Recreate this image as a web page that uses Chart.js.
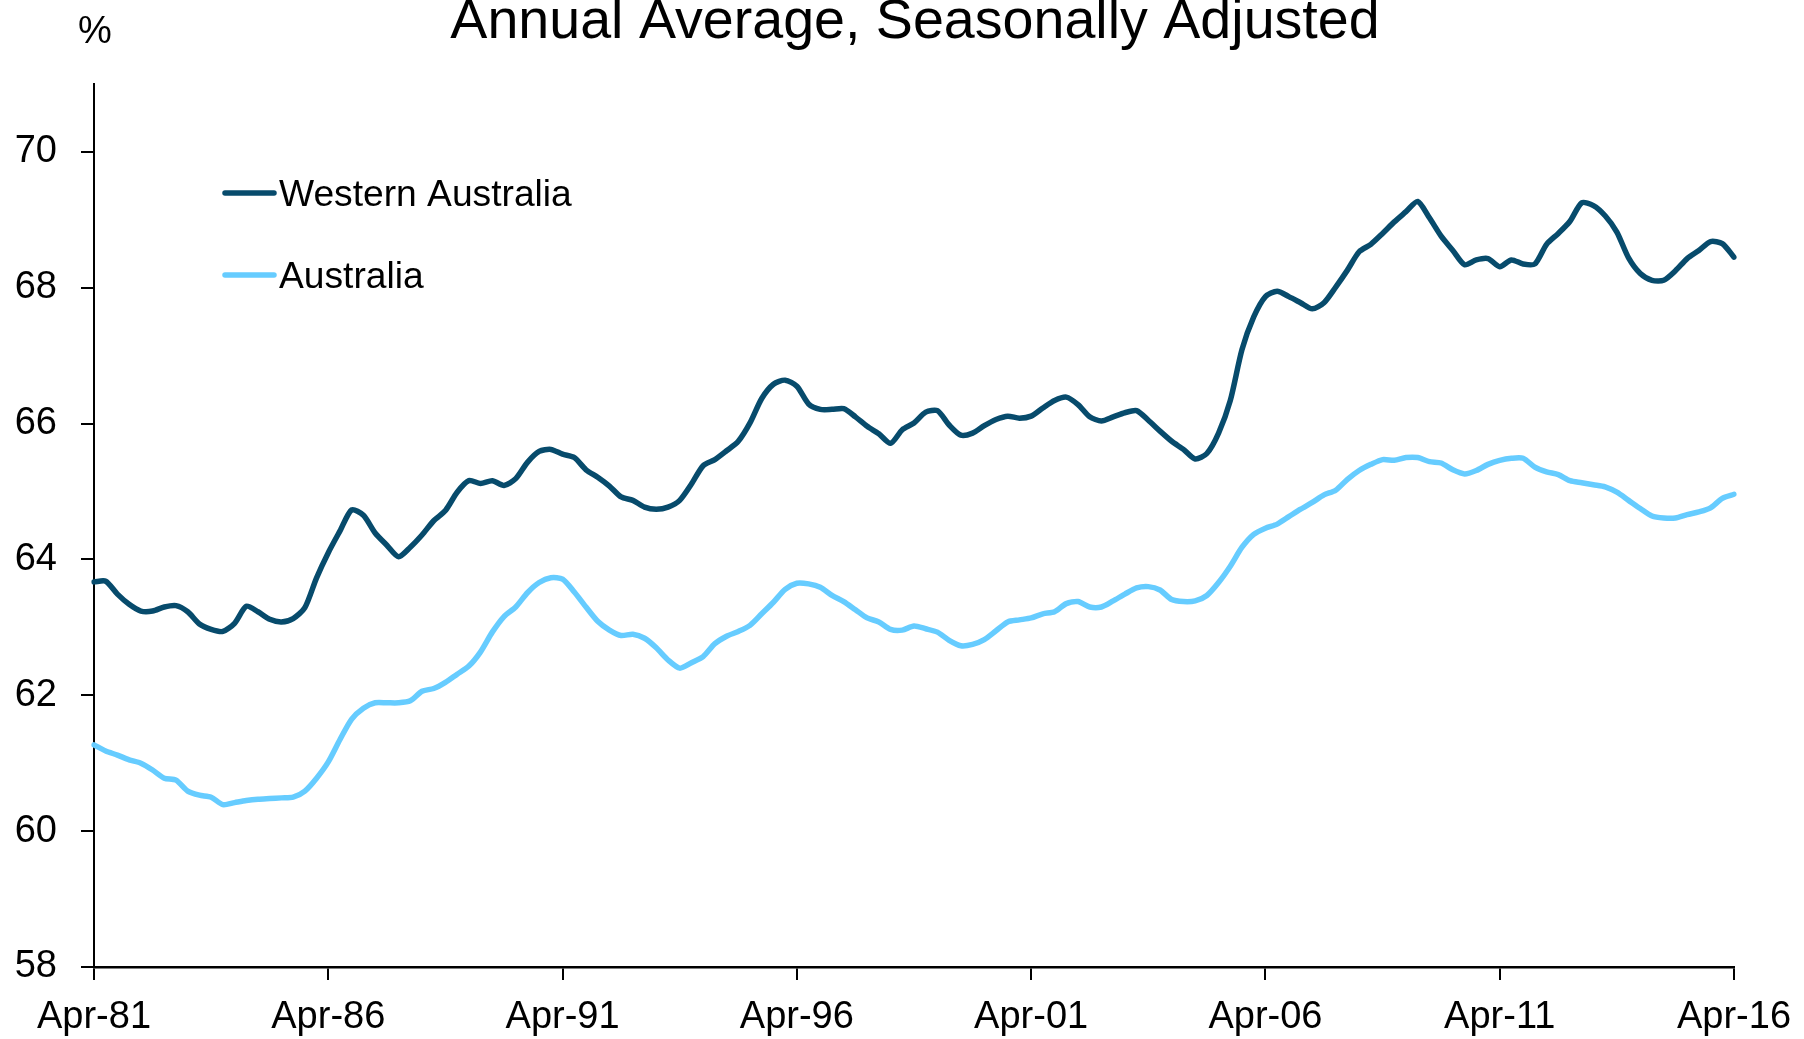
<!DOCTYPE html>
<html>
<head>
<meta charset="utf-8">
<title>Annual Average, Seasonally Adjusted</title>
<script src="https://cdn.jsdelivr.net/npm/chart.js@4.4.1/dist/chart.umd.min.js"></script>
<style>
  html, body { margin: 0; padding: 0; background: #fff; }
  #wrap { position: relative; width: 1804px; height: 1039px; }
</style>
</head>
<body>
<div id="wrap"><canvas id="chart"></canvas></div>
<script>
const TITLE = 'Annual Average, Seasonally Adjusted';
const UNIT_LABEL = '%';
const FONT = '"Liberation Sans", Arial, sans-serif';
const MONTH_NAMES = ['Jan', 'Feb', 'Mar', 'Apr', 'May', 'Jun', 'Jul', 'Aug', 'Sep', 'Oct', 'Nov', 'Dec'];
const TICK_LABELS = ['Apr-81', 'Apr-86', 'Apr-91', 'Apr-96', 'Apr-01', 'Apr-06', 'Apr-11', 'Apr-16'];
const Y_TICKS = [58, 60, 62, 64, 66, 68, 70];
const SERIES_NAMES = ['Western Australia', 'Australia'];
const SERIES_COLOURS = ['#074b6c', '#66ccff'];

// quarterly readings, Apr-81 .. Apr-16
const WA_VALUES = [
  63.67, 63.68, 63.49, 63.34, 63.24, 63.24, 63.30, 63.32, 63.23, 63.05,
  62.97, 62.94, 63.06, 63.31, 63.23, 63.12, 63.08, 63.13, 63.29, 63.73,
  64.10, 64.42, 64.73, 64.65, 64.39, 64.21, 64.04, 64.18, 64.36, 64.57,
  64.72, 64.99, 65.16, 65.12, 65.16, 65.09, 65.19, 65.43, 65.59, 65.62,
  65.55, 65.50, 65.32, 65.21, 65.08, 64.92, 64.87, 64.77, 64.74, 64.77,
  64.87, 65.11, 65.38, 65.47, 65.60, 65.74, 66.01, 66.37, 66.58, 66.64,
  66.55, 66.29, 66.21, 66.21, 66.22, 66.10, 65.96, 65.85, 65.71, 65.91,
  66.01, 66.17, 66.19, 65.98, 65.83, 65.86, 65.97, 66.06, 66.11, 66.08,
  66.11, 66.23, 66.34, 66.39, 66.28, 66.10, 66.04, 66.10, 66.16, 66.19,
  66.05, 65.89, 65.74, 65.62, 65.48, 65.56, 65.86, 66.34, 67.09, 67.57,
  67.87, 67.95, 67.87, 67.78, 67.69, 67.78, 68.01, 68.26, 68.53, 68.64,
  68.80, 68.97, 69.12, 69.27, 69.03, 68.76, 68.55, 68.34, 68.41, 68.43,
  68.31, 68.41, 68.35, 68.35, 68.64, 68.80, 68.98, 69.25, 69.21, 69.06,
  68.82, 68.44, 68.21, 68.11, 68.11, 68.25, 68.43, 68.55, 68.68, 68.65,
  68.45
];
const AUS_VALUES = [
  61.27, 61.18, 61.12, 61.05, 61.00, 60.90, 60.78, 60.75, 60.59, 60.53,
  60.50, 60.39, 60.42, 60.45, 60.47, 60.48, 60.49, 60.50, 60.59, 60.78,
  61.02, 61.35, 61.65, 61.81, 61.89, 61.89, 61.89, 61.92, 62.06, 62.10,
  62.19, 62.31, 62.43, 62.64, 62.93, 63.16, 63.30, 63.51, 63.66, 63.73,
  63.71, 63.52, 63.30, 63.09, 62.96, 62.88, 62.90, 62.84, 62.70, 62.52,
  62.40, 62.48, 62.57, 62.76, 62.87, 62.94, 63.03, 63.20, 63.37, 63.56,
  63.65, 63.64, 63.59, 63.47, 63.38, 63.26, 63.14, 63.08, 62.97, 62.96,
  63.02, 62.98, 62.93, 62.81, 62.73, 62.75, 62.82, 62.95, 63.08, 63.11,
  63.14, 63.20, 63.23, 63.35, 63.38, 63.30, 63.30, 63.39, 63.49, 63.58,
  63.60, 63.55, 63.41, 63.38, 63.39, 63.47, 63.66, 63.90, 64.18, 64.37,
  64.46, 64.52, 64.63, 64.74, 64.84, 64.95, 65.02, 65.18, 65.31, 65.40,
  65.47, 65.46, 65.50, 65.50, 65.44, 65.42, 65.32, 65.26, 65.31, 65.40,
  65.46, 65.49, 65.49, 65.36, 65.29, 65.25, 65.16, 65.13, 65.10, 65.07,
  64.99, 64.87, 64.75, 64.64, 64.61, 64.61, 64.66, 64.70, 64.76, 64.90,
  64.96
];

function buildQuarterLabels(count) {
  const labels = [];
  for (let i = 0; i < count; i++) {
    const month = 3 + i * 3;
    const year = (81 + Math.floor(month / 12)) % 100;
    labels.push(`${MONTH_NAMES[month % 12]}-${String(year).padStart(2, '0')}`);
  }
  return labels;
}

const QUARTERS = buildQuarterLabels(WA_VALUES.length);

// title, unit and legend drawn straight onto the canvas
const textPlugin = {
  id: 'chartText',
  afterDraw(chart) {
    const { ctx } = chart;
    ctx.save();
    ctx.fillStyle = '#000';
    ctx.textBaseline = 'alphabetic';
    ctx.textAlign = 'center';
    ctx.font = `55.6px ${FONT}`;
    ctx.fillText(TITLE, 915, 38);
    ctx.font = `38px ${FONT}`;
    ctx.fillText(UNIT_LABEL, 95, 43);

    const rows = [193, 275];
    chart.data.datasets.forEach((ds, i) => {
      const y = rows[i];
      ctx.strokeStyle = ds.borderColor;
      ctx.lineWidth = 5.5;
      ctx.lineCap = 'round';
      ctx.beginPath();
      ctx.moveTo(225, y);
      ctx.lineTo(274, y);
      ctx.stroke();
      ctx.textAlign = 'left';
      ctx.font = `37.2px ${FONT}`;
      ctx.fillText(ds.label, 279, y + 13);
    });
    ctx.restore();
  },
};

function renderChart() {
  const canvas = document.getElementById('chart');
  const datasets = [WA_VALUES, AUS_VALUES].map((values, i) => ({
    label: SERIES_NAMES[i],
    data: values,
    borderColor: SERIES_COLOURS[i],
    backgroundColor: SERIES_COLOURS[i],
    borderWidth: 5.5,
    pointRadius: 0,
    tension: 0.25,
    borderJoinStyle: 'round',
    borderCapStyle: 'round',
  }));

  new Chart(canvas, {
    type: 'line',
    data: { labels: QUARTERS, datasets },
    options: {
      responsive: true,
      maintainAspectRatio: false,
      animation: false,
      layout: { padding: { top: 84, right: 70, bottom: 0, left: 0 } },
      plugins: { legend: { display: false }, title: { display: false }, tooltip: { enabled: false } },
      scales: {
        x: {
          type: 'category',
          offset: false,
          afterFit: (scale) => {
            scale.height = 72;
            scale.paddingLeft = 0;
            scale.paddingRight = 0;
          },
          border: { display: true, color: '#000', width: 2.5 },
          grid: { display: true, drawOnChartArea: false, drawTicks: true, tickLength: 13, color: '#000', lineWidth: 2 },
          ticks: {
            autoSkip: false,
            maxRotation: 0,
            minRotation: 0,
            padding: 15,
            color: '#000',
            font: { family: FONT, size: 38 },
            callback: (value, index) => (index % 20 === 0 ? TICK_LABELS[index / 20] : null),
          },
        },
        y: {
          min: 58,
          max: 71,
          afterFit: (scale) => { scale.width = 94; },
          afterBuildTicks: (scale) => {
            scale.ticks = Y_TICKS.map((value) => ({ value }));
          },
          border: { display: true, color: '#000', width: 2 },
          grid: { display: true, drawOnChartArea: false, drawTicks: true, tickLength: 13, color: '#000', lineWidth: 2 },
          ticks: {
            padding: 24,
            color: '#000',
            font: { family: FONT, size: 38 },
            callback: (value) => value,
          },
        },
      },
    },
    plugins: [textPlugin],
  });
}

renderChart();
</script>
</body>
</html>
